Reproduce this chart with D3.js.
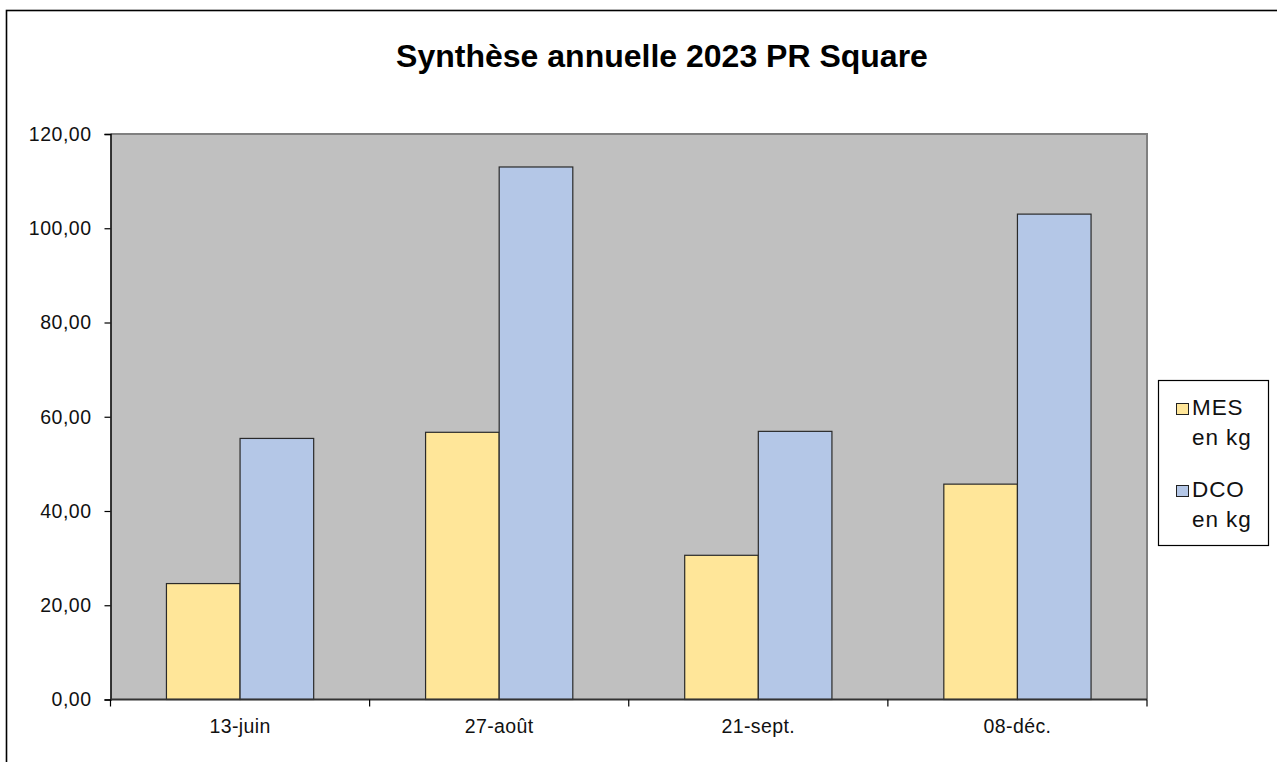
<!DOCTYPE html>
<html>
<head>
<meta charset="utf-8">
<script src="https://cdn.jsdelivr.net/npm/d3@7"></script>
<style>
  html, body { margin: 0; padding: 0; background: #fff; }
  svg { display: block; font-family: "Liberation Sans", Arial, sans-serif; }
</style>
</head>
<body>
<svg id="chart" width="1277" height="762"></svg>
<script>
const categories = ["13-juin", "27-août", "21-sept.", "08-déc."];
const seriesNames = ["MES", "DCO"];
const legendLabels = [["MES", "en kg"], ["DCO", "en kg"]];
const mesValues = [24.6, 56.7, 30.6, 45.7];
const dcoValues = [55.4, 113.0, 56.9, 103.0];
const yTicks = [0, 20, 40, 60, 80, 100, 120];
const colors = ["#ffe699", "#b4c7e7"];
const title = "Synthèse annuelle 2023 PR Square";

(function () {
const seriesValues = [mesValues, dcoValues];
const svg = d3.select("#chart");

const pLeft = 110.5, pRight = 1147, pTop = 134, pBottom = 699.5;

// outer frame
svg.append("rect").attr("x", 6.5).attr("y", 10.5).attr("width", 1300).attr("height", 800)
  .attr("fill", "#fff").attr("stroke", "#000").attr("stroke-width", 1.6);

// title
svg.append("text").attr("x", 662).attr("y", 67).attr("text-anchor", "middle")
  .attr("font-size", 32).attr("font-weight", "bold").attr("fill", "#000").text(title);

const x = d3.scaleBand().domain(categories).range([pLeft, pRight]).paddingInner(0).paddingOuter(0);
const xi = d3.scaleBand().domain(seriesNames).range([0, x.bandwidth()]).paddingInner(0).paddingOuter(0.76);
const y = d3.scaleLinear().domain([0, 120]).range([pBottom, pTop]);

const locale = d3.formatLocale({decimal: ",", thousands: " ", grouping: [3], currency: ["", " €"]});
const fmt = locale.format(".2f");

// plot area
svg.append("rect").attr("x", pLeft).attr("y", y(120)).attr("width", pRight - pLeft).attr("height", y(0) - y(120))
  .attr("fill", "#c0c0c0");
svg.append("path").attr("d", `M${pLeft},${y(120)}H${pRight}V${y(0)}`)
  .attr("fill", "none").attr("stroke", "#808080").attr("stroke-width", 2);

// bars
seriesNames.forEach((s, si) => {
  svg.append("g").selectAll("rect").data(categories).join("rect")
    .attr("x", c => x(c) + xi(s))
    .attr("y", (c, i) => y(seriesValues[si][i]))
    .attr("width", xi.bandwidth())
    .attr("height", (c, i) => y(0) - y(seriesValues[si][i]))
    .attr("fill", colors[si]).attr("stroke", "#2a2a2a").attr("stroke-width", 1.2);
});

// y axis
const yAxis = svg.append("g").attr("transform", `translate(${pLeft},0)`)
  .call(d3.axisLeft(y).tickValues(yTicks).tickFormat(fmt).tickSize(6).tickPadding(13));
yAxis.select(".domain").attr("stroke", "#000").attr("stroke-width", 1.5);
yAxis.selectAll(".tick line").attr("stroke", "#000").attr("stroke-width", 1.2);
yAxis.selectAll("text").attr("font-size", 19.5).attr("letter-spacing", 0.5).attr("fill", "#111")
  .attr("font-family", "Liberation Sans, Arial, sans-serif");

// x axis
const xAxis = svg.append("g").attr("transform", `translate(0,${pBottom})`);
xAxis.append("line").attr("x1", pLeft).attr("x2", pRight).attr("y1", 0).attr("y2", 0)
  .attr("stroke", "#333").attr("stroke-width", 2);
const boundaries = categories.map(c => x(c)).concat([x(categories[categories.length - 1]) + x.bandwidth()]);
xAxis.selectAll("line.tk").data(boundaries).join("line").attr("class", "tk")
  .attr("x1", d => d).attr("x2", d => d).attr("y1", 0).attr("y2", 7)
  .attr("stroke", "#000").attr("stroke-width", 1.2);
xAxis.selectAll("text").data(categories).join("text")
  .attr("x", c => x(c) + x.bandwidth() / 2).attr("y", 33.5)
  .attr("text-anchor", "middle").attr("font-size", 19.5).attr("letter-spacing", 0.4).attr("fill", "#111")
  .text(c => c);

// legend
const lg = svg.append("g");
lg.append("rect").attr("x", 1158.5).attr("y", 380.5).attr("width", 110).attr("height", 165)
  .attr("fill", "#fff").attr("stroke", "#000").attr("stroke-width", 1.2);
const legendY = [403, 485];
legendLabels.forEach((lab, i) => {
  lg.append("rect").attr("x", 1176.5).attr("y", legendY[i] + 0.5).attr("width", 12).attr("height", 11)
    .attr("fill", colors[i]).attr("stroke", "#222").attr("stroke-width", 1);
  lg.append("text").attr("x", 1192).attr("y", legendY[i] + 12).attr("font-size", 22.5)
    .attr("letter-spacing", 0.9).attr("fill", "#111").text(lab[0]);
  lg.append("text").attr("x", 1192).attr("y", legendY[i] + 42).attr("font-size", 22.5)
    .attr("letter-spacing", 0.9).attr("fill", "#111").text(lab[1]);
});
})();
</script>
</body>
</html>
